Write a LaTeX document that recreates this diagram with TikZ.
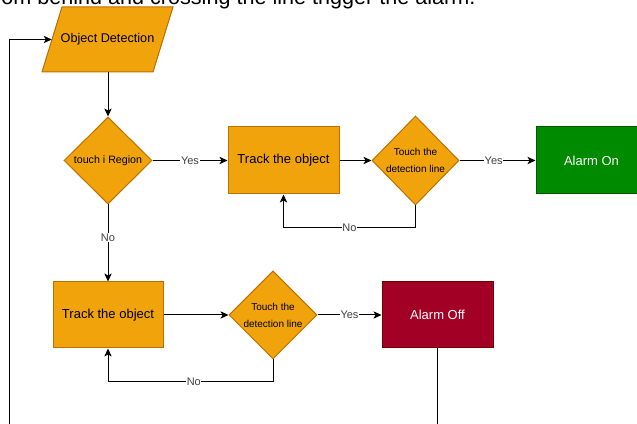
\documentclass[tikz,border=0pt]{standalone}
\usepackage{fontspec}
\setmainfont{Liberation Sans}
\usetikzlibrary{shapes.geometric,arrows.meta}

\definecolor{orangefill}{HTML}{F0A30A}
\definecolor{orangeline}{HTML}{BD7000}
\definecolor{greenfill}{HTML}{008A00}
\definecolor{greenline}{HTML}{005700}
\definecolor{redfill}{HTML}{A20025}
\definecolor{redline}{HTML}{6F0000}

\tikzset{
	flow/.style={line width=0.75pt, -{Stealth[length=6pt,width=5.5pt,inset=1.5pt]}},
	trackbox/.style={rectangle, draw=orangeline, fill=orangefill, line width=0.75pt, minimum width=83.25pt, minimum height=50.25pt, inner sep=0pt, font=\fontsize{9.75}{11.7}\selectfont},
	ask/.style={diamond, aspect=1, draw=orangeline, fill=orangefill, line width=0.75pt, minimum width=66pt, minimum height=66pt, inner sep=0pt, align=center},
	alarmbox/.style={rectangle, line width=0.75pt, minimum width=83.25pt, minimum height=50.25pt, inner sep=0pt, text=white, font=\fontsize{9.75}{11.7}\selectfont},
	edgelabel/.style={fill=white, inner sep=0.5pt, text=black!75, font=\fontsize{8.25}{9.9}\selectfont}
}

\begin{document}
\begin{tikzpicture}[x=0.75pt,y=0.75pt,yscale=-1,xscale=1]
	\useasboundingbox (0,0) rectangle (637,424);
	
	% Text Node
	\node (hdr) [anchor=base west, inner sep=0pt] at (1,4.5) {\fontsize{16.2}{19}\selectfont om behind and crossing the line trigger the alarm.};
	
	%Shape: Parallelogram
	\draw [draw=orangeline, fill=orangefill, line width=0.75pt] (62,7) -- (173,7) -- (153,72) -- (42,72) -- cycle;
	\node (od) [rectangle, minimum width=83.25pt, minimum height=48.75pt, inner sep=0pt, font=\fontsize{9.5}{11.4}\selectfont] at (107.5,39.5) {Object Detection};
	%Shape: Diamond
	\node (reg) [ask, minimum height=65.25pt, font=\fontsize{8}{9.6}\selectfont] at (108,160.5) {touch i Region};
	%Shape: Rectangle
	\node (trk1) [trackbox] at (283.5,160.5) {Track the object};
	%Shape: Diamond
	\node (det1) [ask, minimum width=65.25pt, minimum height=66.75pt, font=\fontsize{7.5}{12.75}\selectfont] at (415.5,160.5) {Touch the\\detection line};
	%Shape: Rectangle
	\node (on) [alarmbox, draw=greenline, fill=greenfill] at (591.5,160.5) {Alarm On};
	%Shape: Rectangle
	\node (trk2) [trackbox, minimum width=82.5pt, minimum height=49.5pt] at (108,315) {Track the object};
	%Shape: Diamond
	\node (det2) [ask, font=\fontsize{7.5}{12.75}\selectfont] at (273,315) {Touch the\\detection line};
	%Shape: Rectangle
	\node (off) [alarmbox, draw=redline, fill=redfill, minimum height=49.5pt] at (437.5,315) {Alarm Off};
	
	%Straight Lines
	\draw [flow] (od.south -| reg.north) -- (reg.north);
	\draw [flow] (reg.east) -- node[edgelabel, pos=0.5] {Yes} (trk1.west);
	\draw [flow] (trk1.east) -- (det1.west);
	\draw [flow] (det1.east) -- node[edgelabel, pos=0.45] {Yes} (on.west);
	\draw [flow] (det1.south) -- ++(0,22) -| node[edgelabel, pos=0.25] {No} (trk1.south);
	\draw [flow] (reg.south) -- node[edgelabel, pos=0.43] {No} (trk2.north);
	\draw [flow] (trk2.east) -- (det2.west);
	\draw [flow] (det2.east) -- node[edgelabel, pos=0.5] {Yes} (off.west);
	\draw [flow] (det2.south) -- ++(0,22) -| node[edgelabel, pos=0.24] {No} (trk2.south);
	
	%Loop back
	\coordinate (lp) at (9,440);
	\draw [flow] (off.south) |- (lp) |- (od.west);
	
\end{tikzpicture}
\end{document}
